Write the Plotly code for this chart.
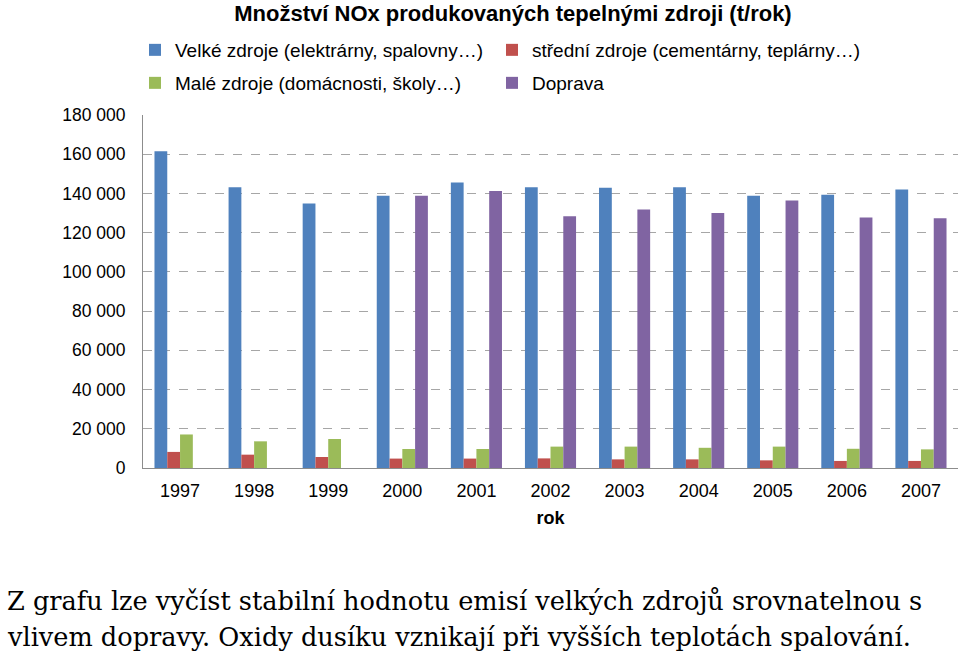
import plotly.graph_objects as go

years = ["1997", "1998", "1999", "2000", "2001", "2002", "2003", "2004", "2005", "2006", "2007"]
velke = [161500, 143200, 134900, 138800, 145600, 143200, 142900, 143200, 138800, 139300, 142000]
stredni = [8200, 6800, 5600, 4800, 4800, 4900, 4400, 4400, 3900, 3600, 3600]
male = [17100, 13600, 14800, 9700, 9700, 10900, 10900, 10300, 10900, 9800, 9500]
doprava = [None, None, None, 138800, 141200, 128400, 131800, 130000, 136400, 127700, 127400]

names = ["Velké zdroje (elektrárny, spalovny…)", "střední zdroje (cementárny, teplárny…)",
         "Malé zdroje (domácnosti, školy…)", "Doprava"]
colors = ["#4F81BD", "#C0504D", "#9BBB59", "#8064A2"]
series = [velke, stredni, male, doprava]

yticks = [0, 20000, 40000, 60000, 80000, 100000, 120000, 140000, 160000, 180000]
yticktext = ["0", "20 000", "40 000", "60 000", "80 000", "100 000", "120 000", "140 000", "160 000", "180 000"]

W, H = 960, 658

font_sans = "Liberation Sans, Arial, sans-serif"
font_serif = "DejaVu Serif, Liberation Serif, serif"

legend_ids = ["legend", "legend2", "legend3", "legend4"]
# legend entry positions (left x, row centre y) in page pixels
legend_pos = [(135, 50), (492, 50), (135, 83), (492, 83)]

fig = go.Figure()
for name, col, lg, vals in zip(names, colors, legend_ids, series):
    fig.add_trace(go.Bar(x=years, y=vals, name=name, marker=dict(color=col, line=dict(width=0)),
                         legend=lg))

legend_layout = {}
for lg, (lx, ly) in zip(legend_ids, legend_pos):
    legend_layout[lg] = dict(orientation="h", xref="container", yref="container",
                             x=lx / W, y=1 - ly / H, xanchor="left", yanchor="middle",
                             font=dict(family=font_sans, size=19, color="#000"),
                             itemwidth=30, bgcolor="rgba(0,0,0,0)")

plot_left, plot_right, plot_top, plot_bottom = 143, 958, 115, 468
ph = plot_bottom - plot_top
pw = plot_right - plot_left

fig.update_layout(
    width=W, height=H,
    paper_bgcolor="white", plot_bgcolor="white",
    margin=dict(l=plot_left, r=W - plot_right, t=plot_top, b=H - plot_bottom),
    barmode="group", bargap=0.31, bargroupgap=0,
    showlegend=True,
    title=dict(text="<b>Množství NOx produkovaných tepelnými zdroji (t/rok)</b>",
               x=513 / W, xanchor="center", y=1 - 13 / H, yanchor="middle",
               font=dict(family=font_sans, size=22, color="#000")),
    xaxis=dict(showline=True, linecolor="#8c8c8c", linewidth=1, ticks="",
               tickfont=dict(family=font_sans, size=18, color="#000"),
               ticklabelstandoff=6,
               title=dict(text="<b>rok</b>", font=dict(family=font_sans, size=18, color="#000"),
                          standoff=11)),
    yaxis=dict(range=[0, 180000], tickvals=yticks, ticktext=yticktext,
               showline=True, linecolor="#8c8c8c", linewidth=1,
               showgrid=True, gridcolor="#a6a6a6", griddash="dash", gridwidth=1,
               zeroline=False, ticks="", ticklabelstandoff=13,
               tickfont=dict(family=font_sans, size=17.5, color="#000")),
    annotations=[
        dict(text="Z grafu lze vyčíst stabilní hodnotu emisí velkých zdrojů srovnatelnou s",
             xref="paper", yref="paper", x=(5 - plot_left) / pw, y=(plot_bottom - 601) / ph,
             xanchor="left", yanchor="middle", showarrow=False,
             font=dict(family=font_serif, size=25.6, color="#000")),
        dict(text="vlivem dopravy. Oxidy dusíku vznikají při vyšších teplotách spalování.",
             xref="paper", yref="paper", x=(5 - plot_left) / pw, y=(plot_bottom - 637) / ph,
             xanchor="left", yanchor="middle", showarrow=False,
             font=dict(family=font_serif, size=25.6, color="#000")),
    ],
    **legend_layout,
)

fig.write_html("out.html", config={"displayModeBar": False},
               post_script="document.body.style.margin='0';")
